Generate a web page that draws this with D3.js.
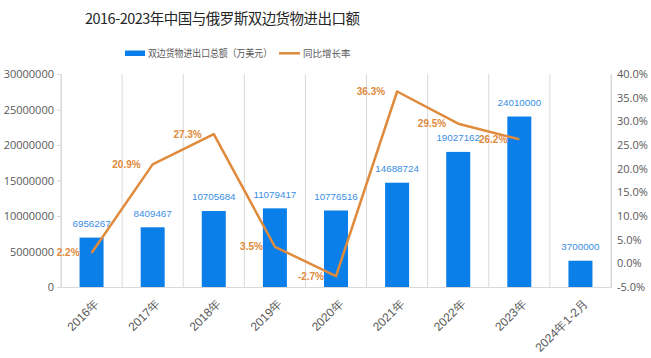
<!DOCTYPE html>
<html><head><meta charset="utf-8">
<script src="https://cdn.jsdelivr.net/npm/d3@7"></script>
<style>
html,body{margin:0;padding:0;background:#fff;}
svg{display:block;font-family:"Noto Sans CJK SC","Noto Sans",sans-serif;}
</style></head>
<body>
<svg id="c" width="651" height="358"></svg>
<script>
const categories = ["2016年","2017年","2018年","2019年","2020年","2021年","2022年","2023年","2024年1-2月"];
const tradeValues = [6956267, 8409467, 10705684, 11079417, 10776516, 14688724, 19027162, 24010000, 3700000];
const growthRates = [2.2, 20.9, 27.3, 3.5, -2.7, 36.3, 29.5, 26.2];
const leftTicks = [0, 5000000, 10000000, 15000000, 20000000, 25000000, 30000000];
const rightTicks = [-5, 0, 5, 10, 15, 20, 25, 30, 35, 40];
const title = "2016-2023年中国与俄罗斯双边货物进出口额";
const legendBar = "双边货物进出口总额（万美元）";
const legendLine = "同比增长率";

const svg = d3.select("#c");
const L = 61, R = 611, T = 74, B = 287;
const barColor = "#0a7fea", lineColor = "#e08a3c", labelBlue = "#3a8ee4", txt = "#595959", grid = "#d9d9d9";
const numFont = "'Liberation Sans','Open Sans',sans-serif";

const x = d3.scaleBand().domain(categories).range([L, R]).paddingInner(0).paddingOuter(0);
const yL = d3.scaleLinear().domain([0, 30000000]).range([B, T]);
const yR = d3.scaleLinear().domain([-5, 40]).range([B, T]);

// title
svg.append("text").attr("x", 85).attr("y", 24)
  .attr("font-size", 14.5).attr("fill", "#262626")
  .attr("textLength", 275).attr("lengthAdjust", "spacing").text(title);

// legend
const lg = svg.append("g");
lg.append("rect").attr("x", 125).attr("y", 50.5).attr("width", 20).attr("height", 5.5).attr("fill", barColor);
lg.append("text").attr("x", 148).attr("y", 56.5).attr("font-size", 10).attr("fill", txt)
  .attr("textLength", 124).attr("lengthAdjust", "spacingAndGlyphs").text(legendBar);
lg.append("line").attr("x1", 279).attr("x2", 300).attr("y1", 53.3).attr("y2", 53.3).attr("stroke", lineColor).attr("stroke-width", 2.5);
lg.append("text").attr("x", 303).attr("y", 56.5).attr("font-size", 9.5).attr("fill", txt).text(legendLine);

// vertical gridlines at category boundaries
const bounds = categories.map(c => x(c)).concat([R]);
svg.append("g").selectAll("line").data(bounds).join("line")
  .attr("x1", d => d).attr("x2", d => d).attr("y1", T).attr("y2", B)
  .attr("stroke", grid).attr("stroke-width", 1);

// left axis
const axL = svg.append("g").attr("transform", `translate(${L},0)`)
  .call(d3.axisLeft(yL).tickValues(leftTicks).tickFormat(d3.format("d")).tickSize(4).tickPadding(3));
axL.select(".domain").attr("stroke", grid);
axL.selectAll(".tick line").attr("stroke", grid);
axL.selectAll("text").attr("fill", txt).attr("font-size", 11).attr("font-family", "'Open Sans','Noto Sans',sans-serif");

// right axis
const axR = svg.append("g").attr("transform", `translate(${R},0)`)
  .call(d3.axisRight(yR).tickValues(rightTicks).tickFormat(d => d.toFixed(1) + "%").tickSize(0).tickPadding(6));
axR.select(".domain").attr("stroke", grid);
axR.selectAll("text").attr("fill", txt).attr("font-size", 11).attr("font-family", "'Open Sans','Noto Sans',sans-serif");

// bottom axis
const axB = svg.append("g").attr("transform", `translate(0,${B})`)
  .call(d3.axisBottom(x).tickSize(0));
axB.select(".domain").attr("stroke", grid);
axB.selectAll("text").attr("fill", txt).attr("font-size", 12)
  .attr("text-anchor", "end").attr("x", 0).attr("y", 0).attr("dy", 0)
  .attr("transform", "translate(8,17.5) rotate(-45)");

// bars
const bw = 24;
svg.append("g").selectAll("rect").data(tradeValues).join("rect")
  .attr("x", (d, i) => x(categories[i]) + x.bandwidth() / 2 - bw / 2)
  .attr("width", bw)
  .attr("y", d => yL(d)).attr("height", d => B - yL(d))
  .attr("fill", barColor);

// bar labels
svg.append("g").selectAll("text").data(tradeValues).join("text")
  .attr("x", (d, i) => x(categories[i]) + x.bandwidth() / 2)
  .attr("y", d => yL(d) - 10.5)
  .attr("text-anchor", "middle").attr("font-size", 9.8).attr("fill", labelBlue)
  .attr("font-family", numFont)
  .text(d => d);

// line
const px = (d, i) => x(categories[i]) + x.bandwidth() / 2;
svg.append("path").datum(growthRates)
  .attr("d", d3.line().x(px).y(d => yR(d)))
  .attr("fill", "none").attr("stroke", lineColor).attr("stroke-width", 2.5).attr("stroke-linejoin", "round");

// line labels
svg.append("g").selectAll("text").data(growthRates).join("text")
  .attr("x", (d, i) => px(d, i) - 12)
  .attr("y", d => yR(d)).attr("dy", "0.35em")
  .attr("text-anchor", "end").attr("font-size", 10).attr("font-weight", "bold").attr("fill", lineColor)
  .attr("font-family", numFont)
  .text(d => d.toFixed(1) + "%");
</script>
</body></html>
